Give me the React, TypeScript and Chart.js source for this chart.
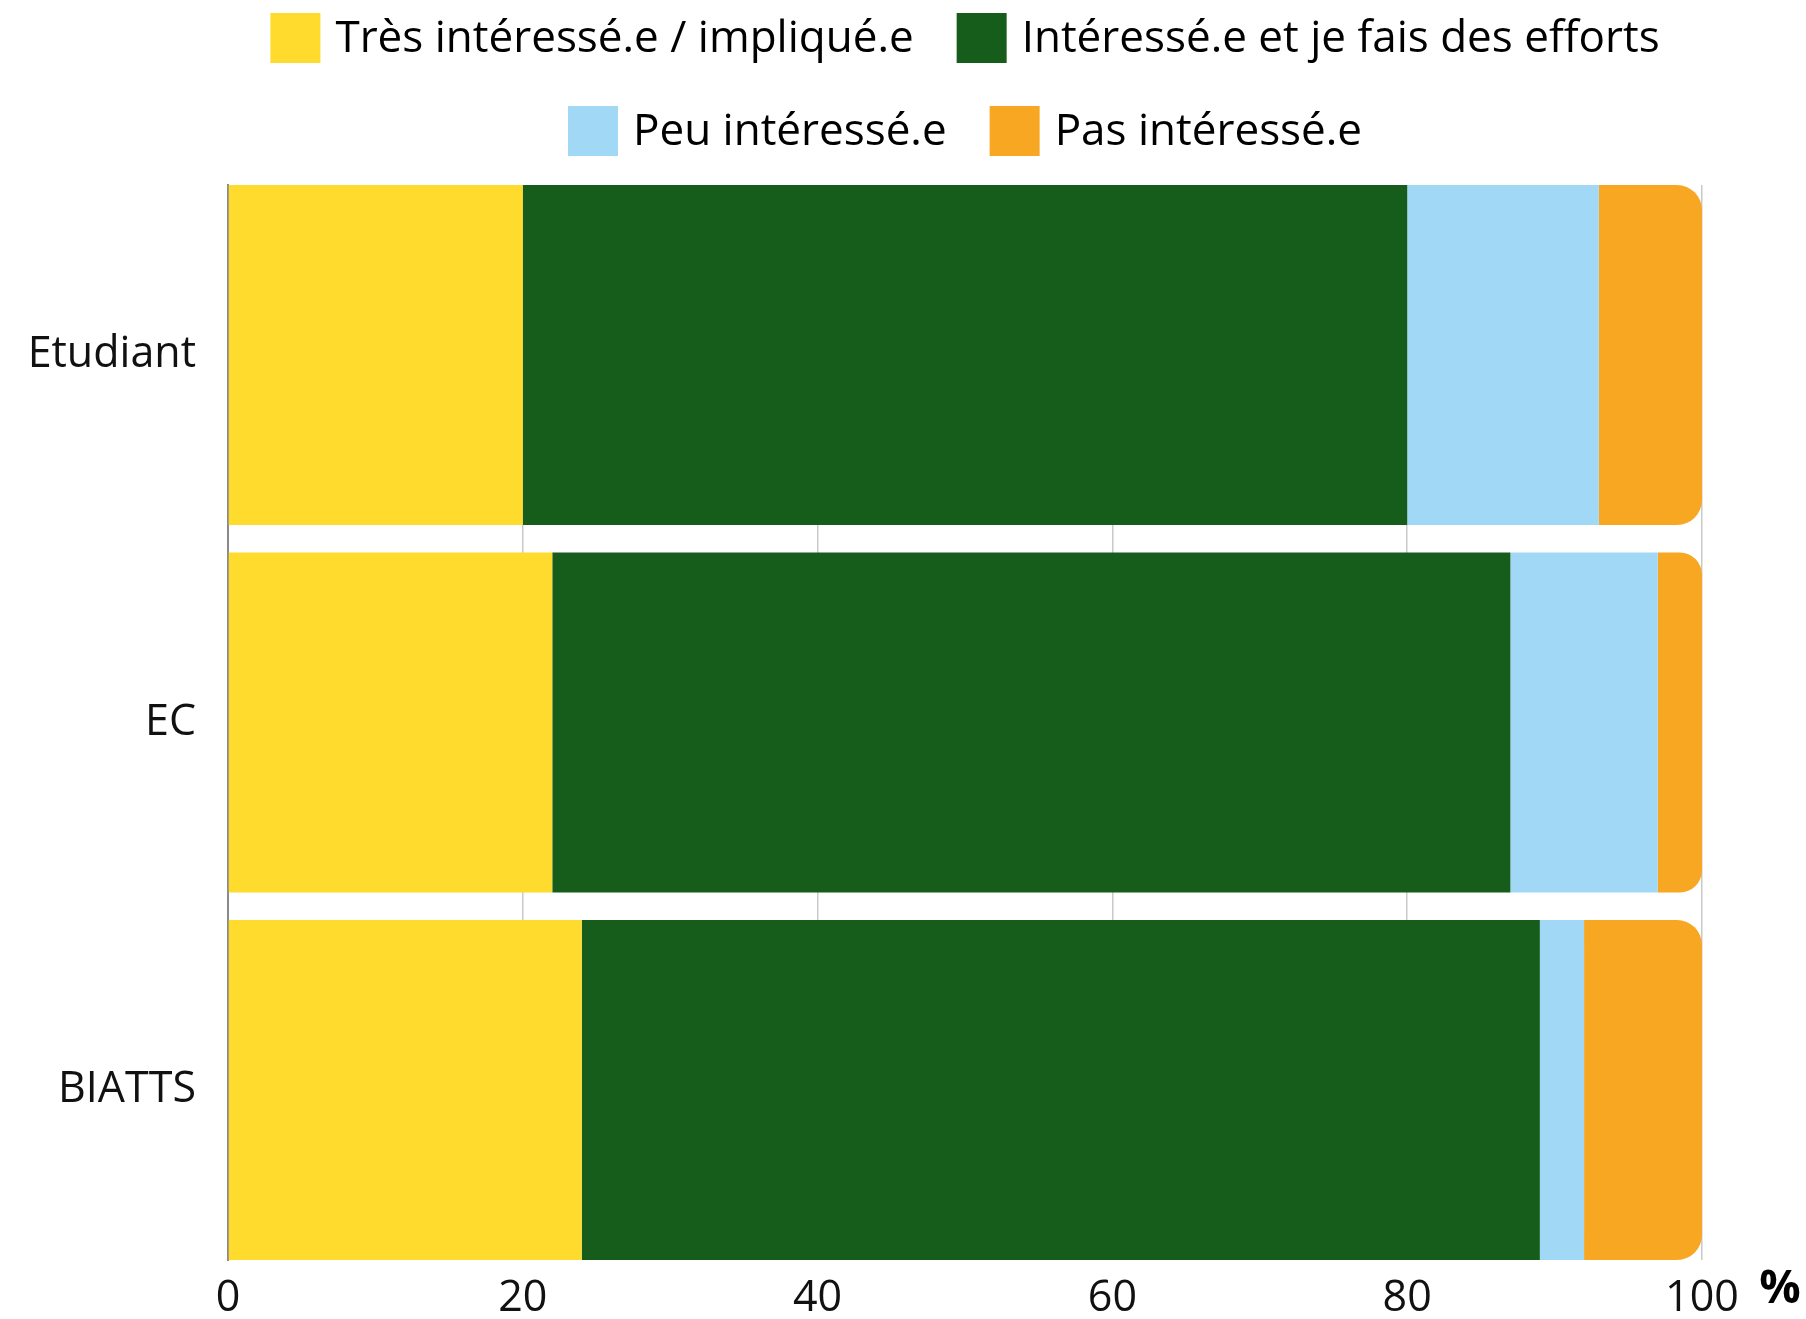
import React, { useEffect, useRef } from "react";
import { Chart, registerables } from "chart.js";

Chart.register(...registerables);

const categories = ["Etudiant", "EC", "BIATTS"];
const seriesLabels = [
  "Très intéressé.e / impliqué.e",
  "Intéressé.e et je fais des efforts",
  "Peu intéressé.e",
  "Pas intéressé.e",
];
const tresInteresse = [20, 22, 24];
const interesseEfforts = [60, 65, 65];
const peuInteresse = [13, 10, 3];
const pasInteresse = [7, 3, 8];
const xTicks = [0, 20, 40, 60, 80, 100];
const axisUnit = "%";

const seriesValues = [tresInteresse, interesseEfforts, peuInteresse, pasInteresse];
const seriesColors = ["#FEDB2C", "#165C1A", "#A1D8F5", "#F7A722"];

const FONT = "'Open Sans', sans-serif";
const EDGE = 170 / 367.5;

const legendPlugin = {
  id: "customLegend",
  afterDraw(chart: any) {
    const ctx = chart.ctx;
    const area = chart.chartArea;
    ctx.save();
    ctx.font = `44px ${FONT}`;
    ctx.textBaseline = "middle";
    ctx.textAlign = "left";
    const box = 50;
    const gap = 15;
    const itemGap = 43;
    const rowStep = 93;
    const firstTop = 13;
    const items = chart.data.datasets.map((ds: any) => ({
      label: ds.label,
      color: ds.backgroundColor,
      w: box + gap + ctx.measureText(ds.label).width,
    }));
    const rows: any[][] = [];
    let cur: any[] = [];
    let curW = 0;
    const maxW = area.right - area.left;
    items.forEach((it: any) => {
      const add = cur.length ? itemGap + it.w : it.w;
      if (cur.length && curW + add > maxW) {
        rows.push(cur);
        cur = [it];
        curW = it.w;
      } else {
        cur.push(it);
        curW += add;
      }
    });
    if (cur.length) rows.push(cur);
    const cx = (area.left + area.right) / 2;
    rows.forEach((row, r) => {
      const total = row.reduce((s: number, it: any) => s + it.w, 0) + itemGap * (row.length - 1);
      let x = cx - total / 2;
      const top = firstTop + r * rowStep;
      row.forEach((it: any) => {
        ctx.fillStyle = it.color;
        ctx.fillRect(x, top, box, box);
        ctx.fillStyle = "#000";
        ctx.fillText(it.label, x + box + gap, top + box / 2 + 1);
        x += it.w + itemGap;
      });
    });
    ctx.font = `bold 46px ${FONT}`;
    ctx.textAlign = "center";
    ctx.fillStyle = "#000";
    ctx.fillText(axisUnit, area.right + 78, area.bottom + 30);
    ctx.restore();
  },
};

export default function App() {
  const ref = useRef<HTMLCanvasElement | null>(null);
  useEffect(() => {
    if (!ref.current) return;
    const datasets = seriesLabels.map((label, s) => ({
      label,
      data: seriesValues[s].map((v, i) => ({ x: v, y: i })),
      backgroundColor: seriesColors[s],
      borderWidth: 0,
      borderRadius:
        s === seriesLabels.length - 1
          ? { topLeft: 0, bottomLeft: 0, topRight: 25, bottomRight: 25 }
          : 0,
      borderSkipped: false,
      barPercentage: 340 / 367.5,
      categoryPercentage: 1,
    }));
    const chart = new Chart(ref.current, {
      type: "bar",
      data: { datasets },
      plugins: [legendPlugin],
      options: {
        indexAxis: "y",
        animation: false,
        responsive: true,
        maintainAspectRatio: false,
        layout: { padding: { top: 185, right: 104, bottom: 0, left: 0 } },
        plugins: {
          legend: { display: false },
          tooltip: { enabled: false },
          title: { display: false },
        },
        scales: {
          x: {
            type: "linear",
            stacked: true,
            min: 0,
            max: 100,
            afterBuildTicks: (scale: any) => {
              scale.ticks = xTicks.map((v) => ({ value: v }));
            },
            afterFit: (scale: any) => {
              scale.height = 59;
            },
            ticks: {
              font: { family: FONT, size: 43 },
              color: "#111",
              padding: 13,
            },
            grid: { color: "#c9c9c9", lineWidth: 1.5, drawTicks: false },
            border: { display: false },
          },
          y: {
            type: "linear",
            stacked: true,
            reverse: true,
            offset: false,
            min: -EDGE,
            max: categories.length - 1 + EDGE,
            afterBuildTicks: (scale: any) => {
              scale.ticks = categories.map((_, i) => ({ value: i }));
            },
            afterFit: (scale: any) => {
              scale.width = 228;
            },
            ticks: {
              font: { family: FONT, size: 43 },
              color: "#111",
              padding: 32,
              callback: (v: any) => categories[Math.round(Number(v))] ?? "",
            },
            grid: { display: false, drawTicks: false, offset: false },
            border: { display: true, color: "#8a8a8a", width: 2 },
          },
        },
      } as any,
    });
    return () => chart.destroy();
  }, []);
  return (
    <div style={{ position: "fixed", left: 0, top: 0, width: 1806, height: 1319, background: "#fff" }}>
      <canvas ref={ref} />
    </div>
  );
}
